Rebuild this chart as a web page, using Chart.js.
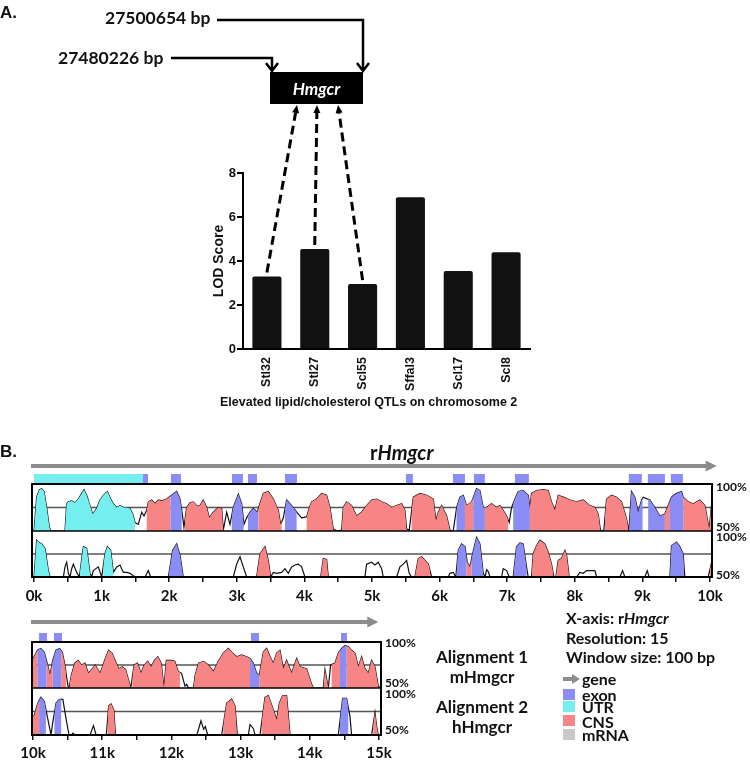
<!DOCTYPE html>
<html lang="en">
<head>
<meta charset="UTF-8">
<title>Hmgcr QTLs and VISTA alignment</title>
<script src="https://cdn.jsdelivr.net/npm/chart.js@4.4.0/dist/chart.umd.min.js"></script>
<style>
  body { margin: 0; background: #fff; }
  #wrap { position: relative; width: 750px; height: 760px; overflow: hidden; background: #fff; }
  canvas { position: absolute; left: 0; }
  .t { position: absolute; white-space: nowrap; line-height: 1; color: #111; font-family: Lato, sans-serif; font-weight: 700; }
  .ar { font-family: "Liberation Sans", Arial, sans-serif; }
  .sq { position: absolute; left: 563px; width: 12px; height: 11px; }
</style>
</head>
<body>
<div id="wrap">
  <canvas id="lod" width="560" height="420" style="top:0"></canvas>
  <canvas id="topMouse" width="750" height="175" style="top:440px"></canvas>
  <canvas id="topHuman" width="750" height="175" style="top:440px"></canvas>
  <canvas id="botMouse" width="750" height="160" style="top:600px"></canvas>
  <canvas id="botHuman" width="750" height="160" style="top:600px"></canvas>

  <div class="t ar" style="left:0;top:4px;font-size:17px">A.</div>
  <div class="t" style="left:105px;top:9px;font-size:17.5px">27500654 bp</div>
  <div class="t" style="left:58px;top:49px;font-size:17.5px">27480226 bp</div>
  <div class="t" style="left:270px;top:72px;width:93px;height:32px;display:flex;align-items:center;justify-content:center;color:#fff;font-size:17px"><i>Hmgcr</i></div>
  <div class="t ar" style="left:220px;top:396px;font-size:12.5px">Elevated lipid/cholesterol QTLs on chromosome 2</div>

  <div class="t ar" style="left:0;top:443px;font-size:17px">B.</div>
  <div class="t" style="left:370px;top:442px;font-size:20px">r<i>Hmgcr</i></div>

  <div class="t" style="left:716px;top:481px;font-size:12px">100%</div>
  <div class="t" style="left:716px;top:521px;font-size:12px">50%</div>
  <div class="t" style="left:716px;top:531px;font-size:12px">100%</div>
  <div class="t" style="left:716px;top:569px;font-size:12px">50%</div>
  <div class="t" style="left:385px;top:637px;font-size:12px">100%</div>
  <div class="t" style="left:385px;top:677px;font-size:12px">50%</div>
  <div class="t" style="left:385px;top:688px;font-size:12px">100%</div>
  <div class="t" style="left:385px;top:724px;font-size:12px">50%</div>

  <div class="t" style="left:566px;top:610px;font-size:16px">X-axis: r<i>Hmgcr</i></div>
  <div class="t" style="left:566px;top:630px;font-size:16px">Resolution: 15</div>
  <div class="t" style="left:566px;top:649px;font-size:16px">Window size: 100 bp</div>

  <div class="t" style="left:422px;width:120px;text-align:center;top:648px;font-size:17px">Alignment 1</div>
  <div class="t" style="left:422px;width:120px;text-align:center;top:668px;font-size:17px">mHmgcr</div>
  <div class="t" style="left:422px;width:120px;text-align:center;top:698px;font-size:17px">Alignment 2</div>
  <div class="t" style="left:422px;width:120px;text-align:center;top:718px;font-size:17px">hHmgcr</div>

  <div style="position:absolute;left:563px;top:677px;width:10px;height:4px;background:#8c8c8c"></div>
  <div style="position:absolute;left:572px;top:674px;width:0;height:0;border-left:8px solid #8c8c8c;border-top:5px solid transparent;border-bottom:5px solid transparent"></div>
  <div class="t" style="left:582px;top:671px;font-size:16px">gene</div>
  <div class="sq" style="top:689px;background:#8c8cf5"></div>
  <div class="t" style="left:582px;top:687px;font-size:16px">exon</div>
  <div class="sq" style="top:701px;background:#74eeee"></div>
  <div class="t" style="left:582px;top:699px;font-size:16px">UTR</div>
  <div class="sq" style="top:715px;background:#f88585"></div>
  <div class="t" style="left:582px;top:714px;font-size:16px">CNS</div>
  <div class="sq" style="top:729px;background:#c8c8c8"></div>
  <div class="t" style="left:582px;top:727px;font-size:16px">mRNA</div>
</div>

<script>
// ---- A: LOD scores of the chromosome 2 QTLs ----
const qtlNames = ['Stl32', 'Stl27', 'Scl55', 'Sffal3', 'Scl17', 'Scl8'];
const lodScores = [3.3, 4.55, 2.95, 6.9, 3.55, 4.4];

// ---- B: VISTA conservation curves, [position bp, identity %] ----
const topMouse = [[0,50],[39,86],[79,94],[113,95],[148,92],[187,75],[227,54],[247,50],[458,50],[483,79],[508,81],[557,82],[606,80],[656,84],[705,90],[740,94],[779,88],[828,77],[867,68],[927,74],[976,83],[1025,88],[1085,92],[1134,84],[1173,79],[1223,75],[1272,77],[1321,75],[1371,75],[1420,74],[1460,68],[1494,59],[1543,57],[1593,70],[1627,66],[1666,72],[1691,81],[1740,83],[1790,79],[1839,83],[1888,82],[1962,84],[2036,88],[2110,92],[2159,84],[2194,68],[2218,54],[2258,75],[2307,80],[2356,81],[2406,77],[2455,77],[2504,83],[2554,75],[2593,64],[2652,70],[2726,75],[2776,74],[2800,51],[2850,70],[2899,57],[2948,75],[3022,89],[3072,79],[3106,57],[3146,64],[3195,70],[3244,74],[3303,70],[3318,74],[3392,90],[3466,92],[3540,84],[3614,72],[3648,57],[3688,64],[3737,83],[3786,79],[3836,75],[3885,70],[3959,64],[4033,65],[4073,75],[4107,81],[4181,84],[4255,90],[4329,88],[4378,75],[4427,52],[4486,50],[4551,51],[4575,75],[4625,81],[4698,77],[4772,66],[4846,70],[4920,77],[4994,83],[5068,84],[5142,81],[5216,79],[5290,75],[5364,77],[5438,79],[5487,72],[5512,52],[5551,51],[5611,86],[5709,90],[5808,88],[5907,84],[5946,61],[5980,70],[6030,77],[6104,66],[6153,51],[6202,50],[6252,75],[6301,86],[6350,88],[6400,77],[6474,81],[6547,95],[6597,93],[6646,75],[6695,75],[6769,79],[6843,75],[6892,77],[6941,72],[6991,66],[7030,59],[7065,75],[7114,84],[7163,92],[7237,93],[7311,88],[7336,75],[7360,90],[7434,93],[7533,94],[7607,93],[7656,81],[7706,72],[7755,88],[7829,86],[7928,83],[8027,81],[8125,83],[8224,77],[8298,75],[8347,68],[8381,50],[8430,51],[8470,84],[8544,88],[8618,86],[8692,81],[8766,63],[8800,50],[8839,92],[8889,86],[8938,70],[8988,83],[9012,86],[9111,83],[9184,75],[9258,66],[9332,68],[9431,86],[9505,90],[9579,92],[9604,86],[9678,81],[9752,79],[9851,83],[9925,77],[9989,52],[10024,79]];
const topHuman = [[0,50],[39,90],[64,88],[113,86],[163,81],[212,57],[237,50],[434,50],[458,61],[483,66],[508,54],[532,50],[557,59],[582,64],[631,55],[670,50],[730,83],[779,81],[828,54],[853,50],[877,57],[951,61],[1001,50],[1050,75],[1085,83],[1134,79],[1173,55],[1223,61],[1272,63],[1321,55],[1371,55],[1420,54],[1494,50],[1642,50],[1691,57],[1725,50],[1987,50],[2051,79],[2110,86],[2159,74],[2208,50],[2948,50],[2998,64],[3047,72],[3096,61],[3146,50],[3293,50],[3343,75],[3417,83],[3466,68],[3501,50],[3540,55],[3589,54],[3663,55],[3712,59],[3762,54],[3811,61],[3861,63],[3910,64],[3959,61],[4008,50],[4240,50],[4280,70],[4329,69],[4353,50],[4895,50],[4920,64],[4994,66],[5043,63],[5093,66],[5142,59],[5167,50],[5364,50],[5413,61],[5463,64],[5512,68],[5551,54],[5586,50],[5635,50],[5684,70],[5734,72],[5783,68],[5833,64],[5882,50],[6128,50],[6153,54],[6202,55],[6240,50],[6276,79],[6325,86],[6375,83],[6409,66],[6449,61],[6488,75],[6547,93],[6597,86],[6646,54],[6671,50],[6696,58],[6720,56],[6745,50],[6917,50],[6941,59],[6991,57],[7030,50],[7089,50],[7138,83],[7188,87],[7237,86],[7286,61],[7311,50],[7360,50],[7385,75],[7434,84],[7484,90],[7557,86],[7607,77],[7656,64],[7691,50],[7720,50],[7755,68],[7804,70],[7854,79],[7878,74],[7918,50],[8027,50],[8076,55],[8125,54],[8175,57],[8249,57],[8298,57],[8323,50],[8667,50],[8707,57],[8741,50],[9037,50],[9071,57],[9100,50],[9407,50],[9431,84],[9505,88],[9554,83],[9604,75],[9628,50],[9974,50],[10024,66]];
const botMouse = [[9990,80],[10015,84],[10064,91],[10113,93],[10162,89],[10211,75],[10245,64],[10284,80],[10333,91],[10382,93],[10422,89],[10456,77],[10505,52],[10520,50],[10554,64],[10603,77],[10652,80],[10701,75],[10750,77],[10799,66],[10848,70],[10897,75],[10971,66],[11044,82],[11093,91],[11142,88],[11191,79],[11240,71],[11289,73],[11338,70],[11387,57],[11412,50],[11461,75],[11510,77],[11559,66],[11608,75],[11657,79],[11706,73],[11755,80],[11804,84],[11853,77],[11892,50],[11926,80],[12000,80],[12049,79],[12098,68],[12147,66],[12196,52],[12221,54],[12245,50],[12319,50],[12343,64],[12392,77],[12466,79],[12533,75],[12606,68],[12678,79],[12750,88],[12823,93],[12871,89],[12943,84],[13015,86],[13087,84],[13136,82],[13184,77],[13232,66],[13270,64],[13328,89],[13376,93],[13425,84],[13473,77],[13521,88],[13569,91],[13617,71],[13665,80],[13737,66],[13810,82],[13858,73],[13954,71],[14027,54],[14051,50],[14195,50],[14219,70],[14267,50],[14301,75],[14364,77],[14412,88],[14460,93],[14508,96],[14556,95],[14604,91],[14653,88],[14701,73],[14749,84],[14797,71],[14845,66],[14893,80],[14942,73],[14990,52],[15020,50]];
const botHuman = [[9990,70],[10015,70],[10064,83],[10113,90],[10162,86],[10211,68],[10260,50],[10284,63],[10333,84],[10382,88],[10431,88],[10480,66],[10520,50],[10554,50],[10578,52],[10603,50],[10824,50],[10873,60],[10912,50],[11059,50],[11093,81],[11127,83],[11167,77],[11191,50],[12368,50],[12427,65],[12466,56],[12490,59],[12525,50],[12726,50],[12799,84],[12871,88],[12919,81],[12953,50],[13111,50],[13136,61],[13184,57],[13208,50],[13280,50],[13352,90],[13400,92],[13473,77],[13521,66],[13560,84],[13608,92],[13665,92],[13714,50],[14412,50],[14474,89],[14532,89],[14580,70],[14604,50],[14893,50],[14942,74],[14966,59],[14990,50]];

// coloured regions under each curve, [start bp, end bp]
const topMouseUtr = [[0,240],[458,1495]];
const topMouseExon = [[2020,2185],[2925,3100],[3165,3315],[3712,3885],[6250,6375],[6498,6670],[7089,7336],[8805,9003],[9086,9333],[9407,9604]];
const topMouseCns = [[1667,2020],[2233,2800],[3318,3663],[4033,4427],[4551,5512],[5586,6153],[6375,6498],[6670,7015],[7336,8371],[8445,8790],[9333,9407],[9604,10030]];
const topHumanUtr = [[0,240],[680,830],[1025,1175]];
const topHumanExon = [[1987,2208],[6251,6399],[6473,6645],[7089,7286],[9407,9614]];
const topHumanCns = [[3294,3491],[4230,4353],[5635,5857],[6399,6473],[7361,7681],[7720,7917],[10000,10030]];
const botMouseExon = [[10064,10196],[10284,10407],[13136,13270],[14436,14533]];
const botMouseCns = [[9990,10064],[10196,10284],[10407,10480],[10529,11412],[11436,12123],[12319,13136],[13270,14051],[14195,14267],[14316,14436],[14533,14990]];
const botHumanExon = [[10088,10186],[10309,10407],[14436,14556]];
const botHumanCns = [[9990,10088],[11078,11191],[12750,12943],[13305,13714],[14918,14990]];

// gene annotation bars above each panel
const geneUtrTop = [[0,1612]];
const geneExonTop = [[1612,1686],[2026,2174],[2928,3091],[3165,3298],[3712,3890],[5502,5605],[6197,6375],[6508,6670],[7114,7321],[8800,8992],[9081,9333],[9421,9599]];
const geneExonBot = [[10087,10202],[10303,10419],[13150,13266],[14451,14538]];

// axis ticks (bp); labelled every 1k
const topTicks = [0,500,1000,1500,2000,2500,3000,3500,4000,4500,5000,5500,6000,6500,7000,7500,8000,8500,9000,9500,10000];
const botTicks = [10000,10500,11000,11500,12000,12500,13000,13500,14000,14500,15000];

const UTR = '#74eeee', EXON = '#8c8cf5', CNS = '#f88585', GENE = '#8c8c8c';

// clip each coloured fill to its regions; must run before the filler plugin
const spanClip = {
  id: 'spanClip',
  beforeDatasetDraw(chart, args) {
    const spans = chart.data.datasets[args.index].spans;
    if (!spans) return;
    const {ctx, chartArea: a, scales: {x}} = chart;
    ctx.save();
    ctx.beginPath();
    spans.forEach(([s, e]) => {
      const x1 = x.getPixelForValue(s), x2 = x.getPixelForValue(e);
      ctx.rect(x1, a.top, x2 - x1, a.bottom - a.top);
    });
    ctx.clip();
  },
  afterDatasetDraw(chart, args) {
    if (chart.data.datasets[args.index].spans) chart.ctx.restore();
  }
};
const filler = Chart.registry.getPlugin('filler');
Chart.unregister(filler);
Chart.register(spanClip);
Chart.register(filler);

// 75% reference line of a track
const midline = {
  id: 'midline',
  beforeDatasetsDraw(chart) {
    const {ctx, chartArea: a, scales: {y}} = chart;
    const yy = y.getPixelForValue(75);
    ctx.save();
    ctx.strokeStyle = '#555'; ctx.lineWidth = 1.5;
    ctx.beginPath(); ctx.moveTo(a.left, yy); ctx.lineTo(a.right, yy); ctx.stroke();
    ctx.restore();
  }
};

// frame round both tracks, gene arrow and exon / UTR bars
const vistaFrame = {
  id: 'vistaFrame',
  afterDraw(chart, args, o) {
    const {ctx, chartArea: a, scales: {x}} = chart;
    ctx.save();
    const bar = (list, color) => {
      ctx.fillStyle = color;
      list.forEach(([s, e]) => {
        const x1 = x.getPixelForValue(s);
        ctx.fillRect(x1, o.barTop, x.getPixelForValue(e) - x1, o.barH);
      });
    };
    bar(o.utr, UTR);
    bar(o.exon, EXON);
    // gene arrow
    const tip = x.getPixelForValue(o.geneEnd);
    ctx.strokeStyle = GENE; ctx.fillStyle = GENE; ctx.lineWidth = 4;
    ctx.beginPath(); ctx.moveTo(a.left - 1, o.arrowY); ctx.lineTo(tip - 9, o.arrowY); ctx.stroke();
    ctx.beginPath(); ctx.moveTo(tip, o.arrowY); ctx.lineTo(tip - 11, o.arrowY - 5.5); ctx.lineTo(tip - 11, o.arrowY + 5.5); ctx.closePath(); ctx.fill();
    // frame
    ctx.strokeStyle = '#000'; ctx.lineWidth = 2;
    ctx.strokeRect(a.left, o.frameTop, a.right - a.left, a.bottom - o.frameTop);
    ctx.lineWidth = 1.5;
    ctx.beginPath(); ctx.moveTo(a.left, a.top); ctx.lineTo(a.right, a.top); ctx.stroke();
    ctx.restore();
  }
};

function track(id, curve, fills, o) {
  const pts = curve.map(([x, y]) => ({x, y}));
  const datasets = fills.map(f => ({
    data: pts, spans: f[0], backgroundColor: f[1], borderColor: 'rgba(0,0,0,0)',
    borderWidth: 0, fill: 'start', pointRadius: 0
  }));
  datasets.push({data: pts, borderColor: '#111', borderWidth: 1.2, fill: false, pointRadius: 0});
  const xAxis = {type: 'linear', min: o.min, max: o.max, display: !!o.ticks};
  if (o.ticks) {
    Object.assign(xAxis, {
      afterBuildTicks(s) { s.ticks = o.ticks.map(v => ({value: v})); },
      afterFit(s) { s.height = o.axisH; },
      border: {display: false},
      grid: {drawOnChartArea: false, tickLength: 5, color: '#111', lineWidth: 1.5},
      ticks: {
        autoSkip: false, maxRotation: 0, padding: o.tickPad,
        color: '#111', font: {family: 'Lato', weight: 'bold', size: 15},
        callback: v => v % 1000 === 0 ? (v / 1000) + 'k' : ''
      }
    });
  }
  return new Chart(document.getElementById(id), {
    type: 'line',
    data: {datasets},
    options: {
      responsive: false, animation: false, events: [],
      layout: {padding: o.pad},
      plugins: {legend: {display: false}, tooltip: {enabled: false}, vistaFrame: o.frame || {}},
      scales: {x: xAxis, y: {min: 50, max: 100, display: false}}
    },
    plugins: o.frame ? [midline, vistaFrame] : [midline]
  });
}

// top panel, 0-10k
track('topMouse', topMouse, [[topMouseUtr, UTR], [topMouseExon, EXON], [topMouseCns, CNS]],
  {min: -30, max: 10030, pad: {left: 32, right: 38, top: 44, bottom: 84}});
track('topHuman', topHuman, [[topHumanUtr, UTR], [topHumanExon, EXON], [topHumanCns, CNS]],
  {min: -30, max: 10030, pad: {left: 32, right: 38, top: 91, bottom: 12}, ticks: topTicks, axisH: 26, tickPad: 5,
   frame: {frameTop: 44, arrowY: 26, barTop: 34, barH: 9, geneEnd: 10100, utr: geneUtrTop, exon: geneExonTop}});

// bottom panel, 10k-15k
track('botMouse', botMouse, [[botMouseExon, EXON], [botMouseCns, CNS]],
  {min: 9985, max: 15029, pad: {left: 32, right: 369, top: 42, bottom: 72}});
track('botHuman', botHuman, [[botHumanExon, EXON], [botHumanCns, CNS]],
  {min: 9985, max: 15029, pad: {left: 32, right: 369, top: 88, bottom: 0}, ticks: botTicks, axisH: 25, tickPad: 4,
   frame: {frameTop: 42, arrowY: 22, barTop: 33, barH: 8, geneEnd: 14990, utr: [], exon: geneExonBot}});

// leader lines from the locus to the Hmgcr box and dashed links to three QTLs
const linkFrom = [297, 317, 338];
const hmgcrLinks = {
  id: 'hmgcrLinks',
  afterDraw(chart) {
    const {ctx, scales: {x, y}} = chart;
    ctx.save();
    ctx.strokeStyle = '#000'; ctx.fillStyle = '#000'; ctx.lineWidth = 2.5;
    ctx.beginPath();
    ctx.moveTo(217, 20); ctx.lineTo(363, 20); ctx.lineTo(363, 71);
    ctx.moveTo(171, 58); ctx.lineTo(272, 58); ctx.lineTo(272, 71);
    ctx.moveTo(357, 63); ctx.lineTo(363, 71); ctx.lineTo(369, 63);
    ctx.moveTo(266, 63); ctx.lineTo(272, 71); ctx.lineTo(278, 63);
    ctx.stroke();
    ctx.fillRect(270, 72, 93, 32);
    linkFrom.forEach((bx, i) => {
      const tx = x.getPixelForValue(i), ty = y.getPixelForValue(lodScores[i]) - 4;
      const ang = Math.atan2(105 - ty, bx - tx);
      const hx = bx - Math.cos(ang) * 8, hy = 105 - Math.sin(ang) * 8;
      ctx.lineWidth = 3; ctx.setLineDash([9, 5]);
      ctx.beginPath(); ctx.moveTo(tx, ty); ctx.lineTo(hx, hy); ctx.stroke();
      ctx.setLineDash([]);
      const px = -Math.sin(ang) * 3.5, py = Math.cos(ang) * 3.5;
      ctx.beginPath(); ctx.moveTo(bx, 105); ctx.lineTo(hx + px, hy + py); ctx.lineTo(hx - px, hy - py); ctx.closePath(); ctx.fill();
    });
    ctx.restore();
  }
};

const arialBold = size => ({family: 'Liberation Sans', weight: 'bold', size});
new Chart(document.getElementById('lod'), {
  type: 'bar',
  data: {
    labels: qtlNames,
    datasets: [{data: lodScores, backgroundColor: '#111', barPercentage: 0.76, categoryPercentage: 0.8, borderRadius: 2, borderSkipped: 'bottom'}]
  },
  options: {
    responsive: false, animation: false, events: [],
    layout: {padding: {left: 211, top: 173, right: 30, bottom: 8}},
    plugins: {legend: {display: false}, tooltip: {enabled: false}},
    scales: {
      x: {
        afterFit(s) { s.height = 63; },
        grid: {display: false, drawTicks: false},
        border: {color: '#000', width: 2},
        ticks: {minRotation: 90, maxRotation: 90, padding: 8, color: '#111', font: arialBold(12.5)}
      },
      y: {
        min: 0, max: 8,
        afterFit(s) { s.width = 32; },
        grid: {drawOnChartArea: false, tickLength: 6, color: '#000', lineWidth: 2},
        border: {color: '#000', width: 2},
        ticks: {stepSize: 2, padding: 1, color: '#111', font: arialBold(13)},
        title: {display: true, text: 'LOD Score', color: '#111', font: arialBold(14), padding: 0}
      }
    }
  },
  plugins: [hmgcrLinks]
});
</script>
</body>
</html>
